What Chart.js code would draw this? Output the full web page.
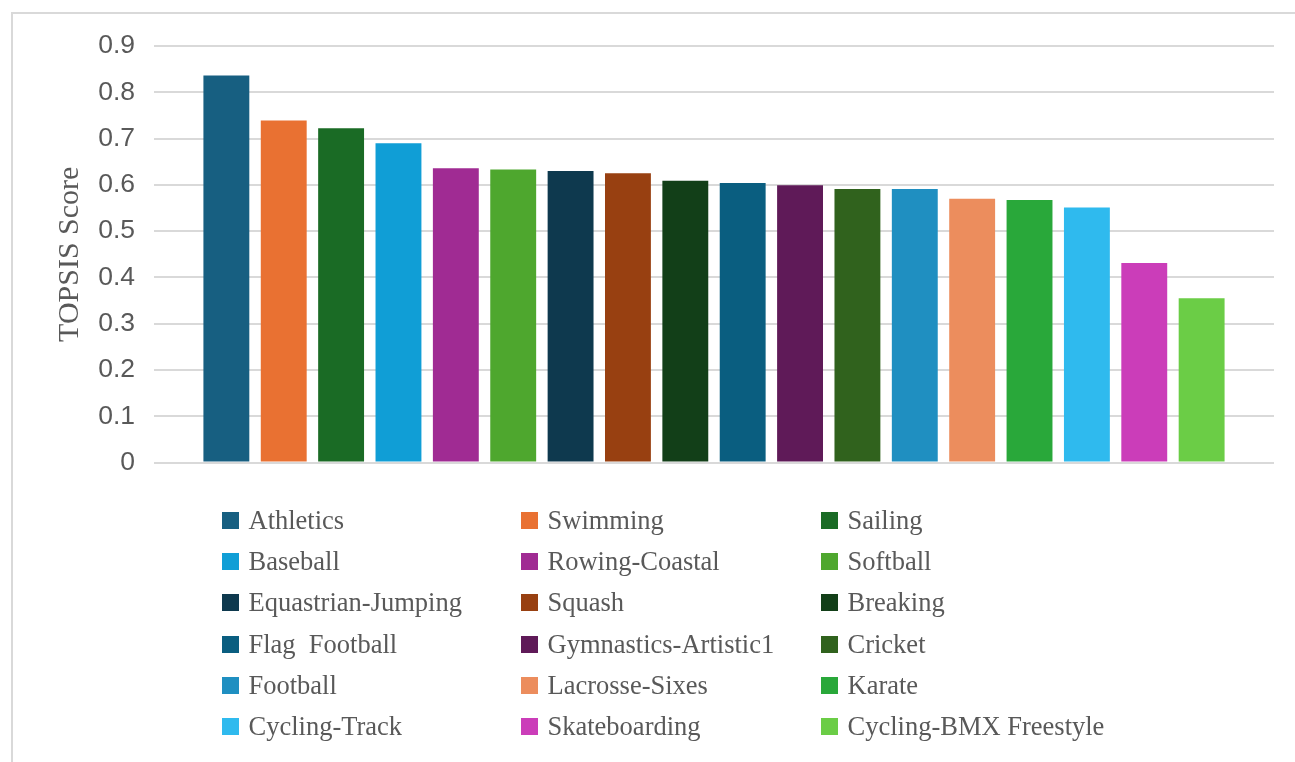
<!DOCTYPE html>
<html>
<head>
<meta charset="utf-8">
<title>TOPSIS Score by Sport</title>
<script src="https://cdn.jsdelivr.net/npm/chart.js@4.4.1/dist/chart.umd.min.js"></script>
<style>
  html, body { margin: 0; padding: 0; background: #ffffff; }
  #wrap { position: relative; width: 1295px; height: 762px; }
  canvas { display: block; }
</style>
</head>
<body>
<div id="wrap"><canvas id="chart" width="1295" height="762"></canvas></div>
<script>
// Sports, in ranked order
const sports = [
  'Athletics', 'Swimming', 'Sailing',
  'Baseball', 'Rowing-Coastal', 'Softball',
  'Equastrian-Jumping', 'Squash', 'Breaking',
  'Flag  Football', 'Gymnastics-Artistic1', 'Cricket',
  'Football', 'Lacrosse-Sixes', 'Karate',
  'Cycling-Track', 'Skateboarding', 'Cycling-BMX Freestyle'
];

// TOPSIS closeness score for each sport
const scores = [
  0.836, 0.739, 0.722,
  0.690, 0.636, 0.633,
  0.630, 0.625, 0.609,
  0.604, 0.599, 0.591,
  0.591, 0.570, 0.567,
  0.551, 0.431, 0.355
];

// Y axis tick labels (0 to 0.9 in steps of 0.1)
const yTickLabels = ['0', '0.1', '0.2', '0.3', '0.4', '0.5', '0.6', '0.7', '0.8', '0.9'];

// Series fill colours
const barColors = [
  '#175f81', '#e97132', '#1a6b25',
  '#109ed6', '#a02b93', '#4ea72e',
  '#0e394e', '#984011', '#123f18',
  '#0a5e80', '#5f1a58', '#30621d',
  '#1f8fc1', '#ec8d5d', '#29a83a',
  '#2fbaee', '#cb3db9', '#6bcd46'
];

const GRID = '#d9d9d9';
const TEXT = '#595959';

// One series per sport, all sharing a single category
const datasets = sports.map((name, i) => ({
  label: name,
  data: [scores[i]],
  backgroundColor: barColors[i],
  borderWidth: 0,
  categoryPercentage: 0.922,
  barPercentage: 0.80
}));

// Outer frame line along the top and left edges
const framePlugin = {
  id: 'frame',
  beforeDraw(chart) {
    const ctx = chart.ctx;
    ctx.save();
    ctx.fillStyle = '#ffffff';
    ctx.fillRect(0, 0, chart.width, chart.height);
    ctx.strokeStyle = GRID;
    ctx.lineWidth = 2;
    ctx.beginPath();
    ctx.moveTo(12, chart.height);
    ctx.lineTo(12, 13);
    ctx.lineTo(chart.width, 13);
    ctx.stroke();
    ctx.restore();
  }
};

// Three-column legend below the plot, filled row by row
const gridLegendPlugin = {
  id: 'gridLegend',
  afterDraw(chart) {
    const ctx = chart.ctx;
    const cols = 3;
    const colX = [222, 521, 821];
    const rowY0 = 520.5;
    const rowStep = 41.2;
    const box = 17;
    ctx.save();
    ctx.font = '26.5px "Liberation Serif", "Times New Roman", serif';
    ctx.textBaseline = 'alphabetic';
    ctx.textAlign = 'left';
    chart.data.datasets.forEach((ds, i) => {
      const col = i % cols;
      const row = Math.floor(i / cols);
      const cy = rowY0 + row * rowStep;
      const x = colX[col];
      ctx.fillStyle = ds.backgroundColor;
      ctx.fillRect(x, Math.round(cy - box / 2), box, box);
      ctx.fillStyle = TEXT;
      ctx.fillText(ds.label, x + 26.5, cy + 8.5);
    });
    ctx.restore();
  }
};

new Chart(document.getElementById('chart'), {
  type: 'bar',
  data: { labels: [''], datasets },
  plugins: [framePlugin, gridLegendPlugin],
  options: {
    responsive: false,
    animation: false,
    events: [],
    layout: { padding: { left: 0, right: 21, top: 46, bottom: 299.5 } },
    plugins: {
      legend: { display: false },
      tooltip: { enabled: false },
      title: { display: false }
    },
    scales: {
      x: {
        display: false,
        offset: true
      },
      y: {
        min: 0,
        max: 0.9,
        afterFit(scale) { scale.width = 154; },
        border: { display: false },
        grid: { color: GRID, lineWidth: 2, drawTicks: false },
        ticks: {
          stepSize: 0.1,
          padding: 19,
          color: TEXT,
          font: { family: '"Liberation Sans", Arial, sans-serif', size: 26.5 },
          callback: (value, index) => yTickLabels[index]
        },
        title: {
          display: true,
          text: 'TOPSIS Score',
          color: TEXT,
          font: { family: '"Liberation Serif", "Times New Roman", serif', size: 30 },
          padding: { top: 52, bottom: 0 }
        }
      }
    }
  }
});
</script>
</body>
</html>
